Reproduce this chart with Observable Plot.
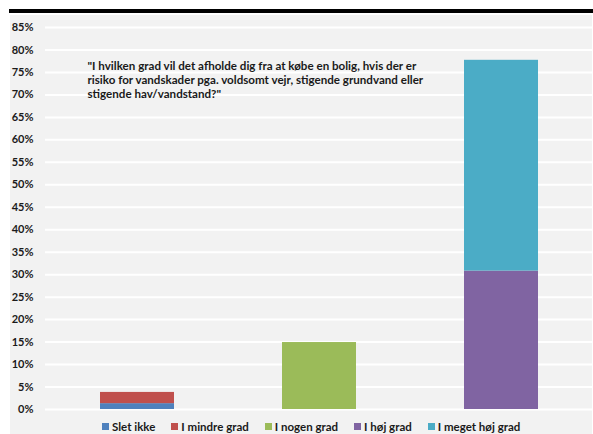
<!DOCTYPE html>
<html>
<head>
<meta charset="utf-8">
<script src="https://cdn.jsdelivr.net/npm/d3@7"></script>
<script src="https://cdn.jsdelivr.net/npm/@observablehq/plot@0.6"></script>
<style>
  html, body { margin: 0; padding: 0; background: #fff; overflow: hidden; }
  body { width: 593px; height: 434px; position: relative; font-family: Lato, "Open Sans", sans-serif; }
  #topbar { position: absolute; left: 9px; top: 9px; width: 584px; height: 4px; background: #000; }
  #panel { position: absolute; left: 10px; top: 15px; width: 582px; height: 430px; background: #f2f2f2; }
  #legend { position: absolute; left: 92px; top: 405px; display: flex; gap: 16px; font-weight: bold; font-size: 11.5px; color: #1a1a1a; white-space: nowrap; }
  #legend .item { display: flex; align-items: center; gap: 3px; }
  #legend .sw { width: 7px; height: 7px; display: inline-block; }
</style>
</head>
<body>
<div id="topbar"></div>
<div id="panel"><div id="chart"></div><div id="legend"></div></div>
<script>
// Groups (bars) on the x axis
const groups = ["1", "2", "3"];
// Series (answer categories) with their values in percent and the bar they stack on
const series = ["Slet ikke", "I mindre grad", "I nogen grad", "I høj grad", "I meget høj grad"];
const values = [1.3, 2.5, 14.9, 30.8, 46.9];
const seriesGroup = ["1", "1", "2", "3", "3"];
const colors = ["#4f81bd", "#c0504d", "#9bbb59", "#8064a2", "#4bacc6"];
// Y axis ticks
const yTicks = [0, 5, 10, 15, 20, 25, 30, 35, 40, 45, 50, 55, 60, 65, 70, 75, 80, 85];
const question = "\"I hvilken grad vil det afholde dig fra at købe en bolig, hvis der er\nrisiko for vandskader pga. voldsomt vejr, stigende grundvand eller\nstigende hav/vandstand?\"";

const data = series.map((s, i) => ({series: s, value: values[i], group: seriesGroup[i]}));

const chart = Plot.plot({
  width: 582,
  height: 405,
  marginTop: 12,
  marginBottom: 11,
  marginLeft: 35,
  marginRight: 0,
  style: {background: "transparent", fontFamily: "Lato, 'Open Sans', sans-serif", fontSize: "11px", fontWeight: "bold", color: "#1a1a1a"},
  x: {domain: groups, paddingInner: 0.595, paddingOuter: 0.2975, axis: null},
  y: {domain: [0, 85], ticks: yTicks, tickFormat: d => d + "%", label: null},
  color: {domain: series, range: colors},
  marks: [
    Plot.ruleY(yTicks, {stroke: "#ffffff", strokeWidth: 2}),
    Plot.axisY({ticks: yTicks, tickFormat: d => d + "%", tickSize: 0, tickPadding: 12, label: null, fontWeight: "bold", fontSize: 11}),
    Plot.barY(data, Plot.stackY({x: "group", y: "value", fill: "series", order: series})),
    Plot.text([question], {frameAnchor: "top-left", dx: 42, dy: 33, lineAnchor: "top", textAnchor: "start", lineHeight: 1.2, fontSize: 11.6, fontWeight: "bold", fill: "#1a1a1a"})
  ]
});
document.getElementById("chart").appendChild(chart);

const legend = document.getElementById("legend");
series.forEach((s, i) => {
  const item = document.createElement("div");
  item.className = "item";
  const sw = document.createElement("span");
  sw.className = "sw";
  sw.style.background = colors[i];
  const t = document.createElement("span");
  t.textContent = s;
  item.appendChild(sw);
  item.appendChild(t);
  legend.appendChild(item);
});
</script>
</body>
</html>
